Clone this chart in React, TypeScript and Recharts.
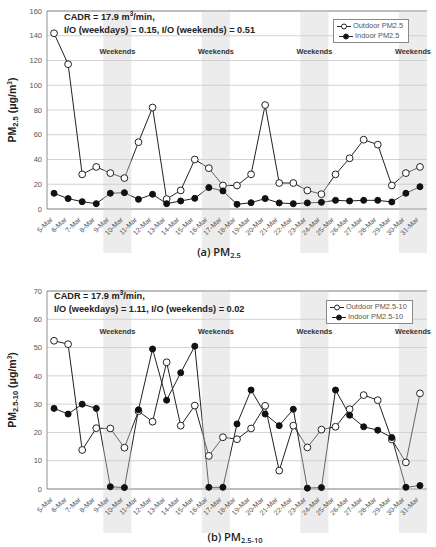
import {
  LineChart,
  Line,
  XAxis,
  YAxis,
  CartesianGrid,
  ReferenceArea,
  ReferenceLine,
  Legend,
} from 'recharts';

const FONT = '"Liberation Sans", Arial, sans-serif';

const dates = [
  '5-Mar', '6-Mar', '7-Mar', '8-Mar', '9-Mar', '10-Mar', '11-Mar', '12-Mar', '13-Mar',
  '14-Mar', '15-Mar', '16-Mar', '17-Mar', '18-Mar', '19-Mar', '20-Mar', '21-Mar', '22-Mar',
  '23-Mar', '24-Mar', '25-Mar', '26-Mar', '27-Mar', '28-Mar', '29-Mar', '30-Mar', '31-Mar',
];

// PM2.5 (ug/m3)
const pm25Outdoor = [142, 117, 28, 34, 29, 25, 54, 82, 8, 15, 40, 33, 19, 19, 28, 84, 21, 21, 15, 12, 28, 41, 56, 52, 19, 29, 34];
const pm25Indoor = [12.7, 8.4, 5.9, 4.3, 12.7, 13.2, 7.8, 11.9, 4.3, 6.5, 8.6, 17.3, 14.6, 3.8, 5.1, 8.4, 4.9, 4.3, 4.9, 5.4, 7, 6.5, 7, 7, 5.7, 12.7, 18];

// PM2.5-10 (ug/m3)
const coarseOutdoor = [52.4, 51.2, 13.8, 21.5, 21.4, 14.6, 27.5, 23.8, 44.8, 22.4, 29.5, 11.7, 18.3, 17.6, 21.4, 29.4, 6.5, 22.4, 14.7, 21, 22, 28.2, 33.2, 31.4, 17.5, 9.4, 33.8];
const coarseIndoor = [28.5, 26.5, 30, 28.5, 0.8, 0.5, 28, 49.5, 31.4, 41.1, 50.5, 0.6, 0.6, 23, 35, 26.5, 22.4, 28.2, 0.3, 0.5, 35, 26.1, 22, 20.8, 18.2, 0.6, 1.2];

// shaded weekend spans
const weekendFrom = ['9-Mar', '16-Mar', '23-Mar', '30-Mar'];
const weekendTo = ['10-Mar', '17-Mar', '24-Mar', '31-Mar'];

const pm25Ticks = [0, 20, 40, 60, 80, 100, 120, 140, 160];
const coarseTicks = [0, 10, 20, 30, 40, 50, 60, 70];

function DateTick({ x, y, payload }: any) {
  return (
    <text
      transform={`translate(${x - 1},${y + 9}) rotate(-45)`}
      textAnchor="end"
      fontSize={7}
      fill="#555"
      fontFamily={FONT}
    >
      {payload.value}
    </text>
  );
}

// band reaches down through the date labels
function BandShape(props: any) {
  const { x, y, width, height } = props;
  return <rect x={x} y={y} width={width} height={height + 44} fill="#d0d0d0" fillOpacity={0.4} />;
}

function LegendBox({ labels }: { labels: string[] }) {
  return (
    <div
      style={{
        border: '1px solid #8a8a8a',
        background: '#fff',
        padding: '1px 5px 1px 2px',
        fontFamily: FONT,
        fontSize: 7.4,
        color: '#555',
        lineHeight: '10px',
      }}
    >
      {labels.map((label, i) => (
        <div key={label} style={{ display: 'flex', alignItems: 'center', whiteSpace: 'nowrap' }}>
          <svg width={16} height={9} style={{ marginLeft: i === 0 ? 0 : 2 }}>
            <line x1={1} y1={4.5} x2={15} y2={4.5} stroke="#222" strokeWidth={1} />
            <circle cx={8} cy={4.5} r={2.5} fill={i === 0 ? '#fff' : '#111'} stroke="#222" strokeWidth={1} />
          </svg>
          <span style={{ marginLeft: 1 }}>{label}</span>
        </div>
      ))}
    </div>
  );
}

type PanelProps = {
  outdoor: number[];
  indoor: number[];
  yTicks: number[];
  legendLabels: string[];
  legendLeft: number;
  legendTop: number;
};

function Panel({ outdoor, indoor, yTicks, legendLabels, legendLeft, legendTop }: PanelProps) {
  const rows = dates.map((date, i) => ({ date, outdoor: outdoor[i], indoor: indoor[i] }));
  const yMax = yTicks[yTicks.length - 1];

  return (
    <LineChart width={436} height={254} data={rows} margin={{ top: 11, right: 9, bottom: 0, left: 0 }}>
      <CartesianGrid vertical={false} stroke="#d2d2d2" />
      <XAxis
        dataKey="date"
        scale="band"
        interval={0}
        height={45}
        tickSize={0}
        tick={<DateTick />}
        stroke="#909090"
      />
      <YAxis
        domain={[0, yMax]}
        ticks={yTicks}
        interval={0}
        width={47}
        tickSize={0}
        tickMargin={5}
        tick={{ fontSize: 7.5, fill: '#555', fontFamily: FONT }}
        stroke="#909090"
      />
      <YAxis yAxisId="frame" orientation="right" width={0} domain={[0, yMax]} tick={false} stroke="#909090" />
      <ReferenceLine y={yMax} stroke="#909090" />
      <Line
        dataKey="outdoor"
        type="linear"
        stroke="#222"
        strokeWidth={1}
        dot={{ r: 3.4, fill: '#fff', stroke: '#222', strokeWidth: 1 }}
        isAnimationActive={false}
      />
      <Line
        dataKey="indoor"
        type="linear"
        stroke="#222"
        strokeWidth={1}
        dot={{ r: 3, fill: '#111', stroke: '#111', strokeWidth: 1 }}
        isAnimationActive={false}
      />
      {weekendFrom.map((d, i) => (
        <ReferenceArea
          key={d}
          x1={d}
          x2={weekendTo[i]}
          ifOverflow="visible"
          shape={BandShape}
          zIndex={600}
          label={{
            value: 'Weekends',
            position: 'insideTop',
            offset: 38,
            fontSize: 7.3,
            fontWeight: 'bold',
            fill: '#333',
            fontFamily: FONT,
          }}
        />
      ))}
      <Legend
        layout="vertical"
        align="center"
        verticalAlign="middle"
        wrapperStyle={{ left: legendLeft, top: legendTop, width: 'auto' }}
        content={() => <LegendBox labels={legendLabels} />}
      />
    </LineChart>
  );
}

const noteStyle = {
  position: 'absolute' as const,
  fontFamily: FONT,
  fontWeight: 'bold' as const,
  fontSize: 9.2,
  lineHeight: '12.5px',
  color: '#222',
  whiteSpace: 'nowrap' as const,
};

const axisTitleStyle = {
  position: 'absolute' as const,
  width: 140,
  height: 14,
  textAlign: 'center' as const,
  transform: 'rotate(-90deg)',
  fontFamily: FONT,
  fontWeight: 'bold' as const,
  fontSize: 10.5,
  lineHeight: '14px',
  color: '#222',
  whiteSpace: 'nowrap' as const,
};

const captionStyle = {
  position: 'absolute' as const,
  width: 160,
  textAlign: 'center' as const,
  fontFamily: '"Open Sans", "Noto Sans", sans-serif',
  fontWeight: 600,
  fontSize: 11,
  lineHeight: '14px',
  color: '#222',
};

const subStyle = { fontSize: 7.5, verticalAlign: '-2px', lineHeight: 0 };
const supStyle = { fontSize: 6.5, verticalAlign: '4px', lineHeight: 0 };

export default function App() {
  return (
    <div
      style={{
        position: 'absolute',
        left: 0,
        top: 0,
        width: 436,
        height: 547,
        background: '#fff',
        overflow: 'hidden',
      }}
    >
      {/* (a) PM2.5 */}
      <div style={{ position: 'absolute', left: 0, top: 0 }}>
        <Panel
          outdoor={pm25Outdoor}
          indoor={pm25Indoor}
          yTicks={pm25Ticks}
          legendLabels={['Outdoor PM2.5', 'Indoor PM2.5']}
          legendLeft={333}
          legendTop={19}
        />
      </div>
      <div style={{ ...noteStyle, left: 64, top: 11 }}>
        CADR = 17.9 m<span style={supStyle}>3</span>/min,
        <br />
        I/O (weekdays) = 0.15, I/O (weekends) = 0.51
      </div>
      <div style={{ ...axisTitleStyle, left: 12 - 70, top: 110 - 7 }}>
        PM<span style={subStyle}>2.5</span> (μg/m<span style={supStyle}>3</span>)
      </div>
      <div style={{ ...captionStyle, left: 219 - 80, top: 245 }}>
        (a) PM<span style={subStyle}>2.5</span>
      </div>

      {/* (b) PM2.5-10 */}
      <div style={{ position: 'absolute', left: 0, top: 280 }}>
        <Panel
          outdoor={coarseOutdoor}
          indoor={coarseIndoor}
          yTicks={coarseTicks}
          legendLabels={['Outdoor PM2.5-10', 'Indoor PM2.5-10']}
          legendLeft={326}
          legendTop={20}
        />
      </div>
      <div style={{ ...noteStyle, left: 54, top: 290 }}>
        CADR = 17.9 m<span style={supStyle}>3</span>/min,
        <br />
        I/O (weekdays) = 1.11, I/O (weekends) = 0.02
      </div>
      <div style={{ ...axisTitleStyle, left: 12 - 70, top: 390 - 7 }}>
        PM<span style={subStyle}>2.5-10</span> (μg/m<span style={supStyle}>3</span>)
      </div>
      <div style={{ ...captionStyle, left: 235 - 80, top: 530 }}>
        (b) PM<span style={subStyle}>2.5-10</span>
      </div>
    </div>
  );
}
